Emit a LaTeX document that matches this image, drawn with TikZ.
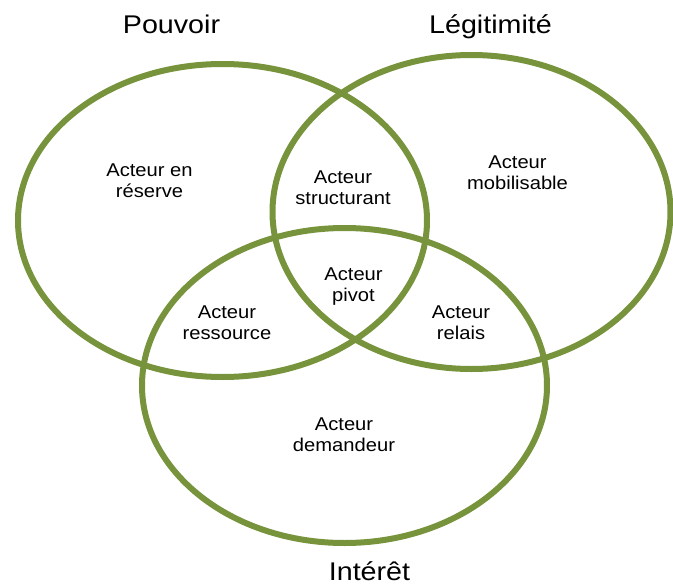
\documentclass[tikz,border=0pt]{standalone}
\usepackage{fontspec}
\newfontfamily\titlefont[FakeStretch=1.12]{Liberation Sans}
\newfontfamily\labfont[FakeStretch=1.09]{Liberation Sans}
\definecolor{olive}{RGB}{119,147,60}
\begin{document}
\begin{tikzpicture}[x=1pt,y=-1pt,
  set/.style={draw=olive,line width=6pt},
  title/.style={anchor=base,inner sep=0pt,font=\titlefont\fontsize{25.6}{30}\selectfont},
  lab/.style={anchor=base,inner sep=0pt,align=center,font=\labfont\fontsize{18.5}{21}\selectfont}]
\useasboundingbox (0,0) rectangle (673,584);
\draw[set] (222.5,220.5) ellipse [x radius=204.5pt, y radius=156.5pt];
\draw[set] (471.5,212) ellipse [x radius=199pt, y radius=157pt];
\draw[set] (344.5,385.5) ellipse [x radius=202.5pt, y radius=157.5pt];
\node[title] (pouvoir) at (171.5,33) {Pouvoir};
\node[title] (legit) at (490.5,33) {Légitimité};
\node[title] (interet) at (369.5,580) {Intérêt};
\node[lab] (reserve) at (149.5,197) {Acteur en\\réserve};
\node[lab] (struct) at (343,204) {Acteur\\structurant};
\node[lab] (mobil) at (517.5,189) {Acteur\\mobilisable};
\node[lab] (pivot) at (353.5,301) {Acteur\\pivot};
\node[lab] (ress) at (227,339) {Acteur\\ressource};
\node[lab] (relais) at (461,339) {Acteur\\relais};
\node[lab] (dem) at (344,451) {Acteur\\demandeur};
\end{tikzpicture}
\end{document}
